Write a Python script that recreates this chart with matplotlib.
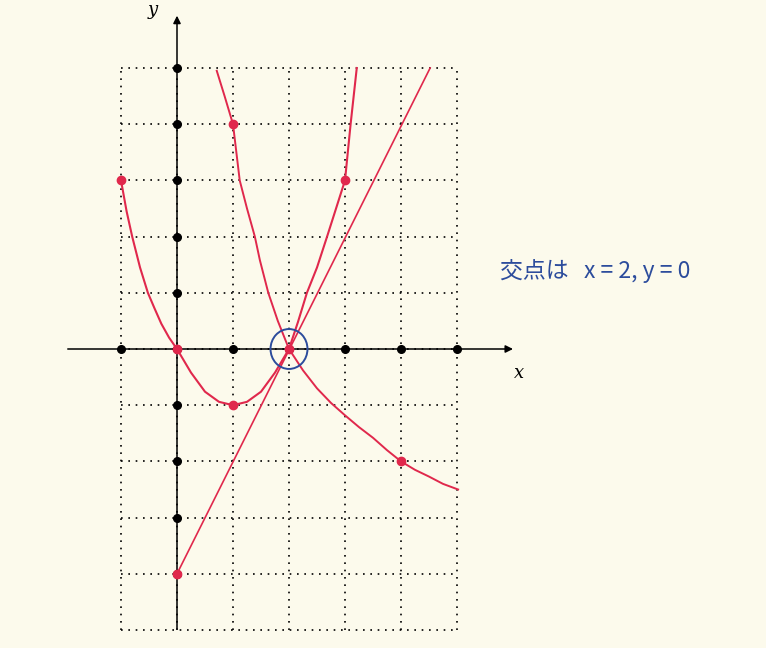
import matplotlib.pyplot as plt
import matplotlib.patches as mpatches

# values
grid_x = [-1, 0, 1, 2, 3, 4, 5]
grid_y = [-5, -4, -3, -2, -1, 0, 1, 2, 3, 4, 5]
axis_dots_x = [-1, 0, 1, 2, 3, 4, 5]
axis_dots_y = [-4, -3, -2, -1, 1, 2, 3, 4, 5]

# parabola y = x^2 - 2x (as drawn)
para_x = [-1, -0.9, -0.8, -0.66, -0.52, -0.4, -0.28, -0.14, 0, 0.25, 0.5, 0.75, 1,
          1.25, 1.5, 1.75, 2, 2.16, 2.32, 2.5, 2.68, 2.84, 3, 3.1, 3.21]
para_y = [3, 2.45, 2, 1.45, 1, 0.72, 0.45, 0.2, 0, -0.42, -0.76, -0.94, -1,
          -0.94, -0.76, -0.42, 0, 0.48, 1, 1.45, 2, 2.5, 3, 4, 5]

# straight line y = 2x - 4
line_x = [0, 4.52]
line_y = [-4, 5]

# decreasing curve
hyp_x = [0.71, 0.85, 1, 1.12, 1.25, 1.39, 1.48, 1.63, 1.8, 2, 2.25, 2.5, 2.75, 3,
         3.25, 3.5, 3.75, 4, 4.25, 4.5, 4.75, 5.02]
hyp_y = [4.95, 4.5, 4, 3, 2.5, 2, 1.58, 1, 0.5, 0, -0.38, -0.7, -0.96, -1.18,
         -1.39, -1.58, -1.8, -2, -2.15, -2.27, -2.4, -2.5]

red_pts_x = [0, 1, 2, 3, -1, 1, 4, 0]
red_pts_y = [0, -1, 0, 3, 3, 4, -2, -4]

bg = '#fcfaec'
red = '#e0284c'
blue = '#2c4c9c'

fig = plt.figure(figsize=(7.66, 6.48), dpi=100, facecolor=bg)
ax = fig.add_axes([0, 0, 1, 1])
ax.set_facecolor(bg)
ax.set_xlim(-177 / 56, (766 - 177) / 56)
ax.set_ylim((349 - 648) / 56.2, 349 / 56.2)
ax.axis('off')

# dotted grid
dot = (0, (1, 3.4))
for gx in grid_x:
    ax.plot([gx, gx], [grid_y[0], grid_y[-1]], color='black', lw=1.2, ls=dot, zorder=1)
for gy in grid_y:
    ax.plot([grid_x[0], grid_x[-1]], [gy, gy], color='black', lw=1.2, ls=dot, zorder=1)

# axes with arrows
ax.annotate('', xy=(6.05, 0), xytext=(-2.0, 0),
            arrowprops=dict(arrowstyle='-|>', lw=1.1, color='black', mutation_scale=11))
ax.annotate('', xy=(0, 5.98), xytext=(0, -5.03),
            arrowprops=dict(arrowstyle='-|>', lw=1.1, color='black', mutation_scale=11))
ax.plot(axis_dots_x, [0] * len(axis_dots_x), 'o', color='black', ms=5.5, zorder=3)
ax.plot([0] * len(axis_dots_y), axis_dots_y, 'o', color='black', ms=5.5, zorder=3)

ax.text(6.1, -0.42, 'x', fontsize=13, family='DejaVu Serif', style='italic', ha='center', va='center')
ax.text(-0.43, 6.03, 'y', fontsize=13, family='DejaVu Serif', style='italic', ha='center', va='center')

# curves
ax.plot(para_x, para_y, color=red, lw=1.5, zorder=4)
ax.plot(line_x, line_y, color=red, lw=1.2, zorder=4)
ax.plot(hyp_x, hyp_y, color=red, lw=1.4, zorder=4)
ax.plot(red_pts_x, red_pts_y, 'o', color=red, ms=6, zorder=5)

# circle around the intersection
ax.add_patch(mpatches.Ellipse((2.0, 0.0), 0.66, 0.71, fill=False, ec=blue, lw=1.4, zorder=6))

ax.text(500 / 56 - 177 / 56, (349 - 271) / 56.2, '交点は   x = 2, y = 0', color=blue, fontsize=16.5,
        family=['Noto Sans CJK JP', 'DejaVu Sans'], ha='left', va='center')

fig.savefig('out.png', dpi=100, facecolor=bg)
